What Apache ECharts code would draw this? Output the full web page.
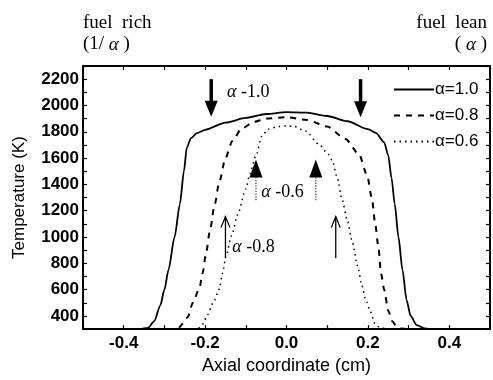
<!DOCTYPE html>
<html>
<head>
<meta charset="utf-8">
<script src="https://cdn.jsdelivr.net/npm/echarts@6/dist/echarts.min.js"></script>
<style>html,body{margin:0;padding:0;background:#fff}#c{width:493px;height:380px}</style>
</head>
<body>
<div id="c"></div>
<script>
// ---- data ----
const seriesNames = ['α=1.0', 'α=0.8', 'α=0.6'];
const x10 = [-0.5,-0.36,-0.34,-0.325,-0.31,-0.30,-0.29,-0.275,-0.262,-0.252,-0.245,-0.235,-0.22,-0.2,-0.15,-0.1,-0.05,0,0.05,0.1,0.15,0.2,0.22,0.24,0.25,0.258,0.266,0.275,0.285,0.295,0.305,0.32,0.34,0.36,0.5];
const t10 = [300,300,310,360,480,600,750,1000,1250,1500,1680,1750,1790,1815,1870,1905,1935,1950,1945,1920,1880,1820,1790,1720,1620,1450,1250,1000,750,520,400,330,305,300,300];
const x08 = [-0.5,-0.28,-0.265,-0.255,-0.243,-0.23,-0.214,-0.206,-0.198,-0.188,-0.177,-0.165,-0.15,-0.133,-0.11,-0.08,-0.05,0,0.05,0.1,0.145,0.178,0.198,0.21,0.218,0.226,0.232,0.24,0.25,0.26,0.27,0.28,0.3,0.5];
const t08 = [300,300,310,340,390,500,610,726,870,1050,1240,1420,1600,1730,1825,1875,1900,1910,1890,1840,1745,1630,1470,1290,1100,920,726,600,440,360,320,305,300,300];
const x06 = [-0.5,-0.23,-0.215,-0.206,-0.194,-0.18,-0.165,-0.157,-0.149,-0.135,-0.12,-0.1,-0.09,-0.076,-0.06,-0.045,-0.02,0,0.02,0.047,0.079,0.1,0.112,0.125,0.136,0.15,0.161,0.175,0.185,0.195,0.206,0.218,0.23,0.25,0.5];
const t06 = [300,300,310,337,410,500,604,726,850,1010,1170,1365,1480,1610,1770,1820,1840,1845,1840,1805,1707,1640,1585,1450,1290,1120,971,780,630,520,432,337,310,300,300];

// annotation arrows (data coordinates)
const arrowX    = [-0.185, 0.182, -0.075, 0.072, -0.15, 0.121];
const arrowTail = [2200, 2200, 1280, 1280, 840, 840];
const arrowHead = [1915, 1910, 1590, 1590, 1155, 1155];
const arrowKind = ['bold', 'bold', 'dotted', 'dotted', 'open', 'open'];
// annotation texts
const noteText = ['-1.0', '-0.6', '-0.8'];
const noteX = [-0.146, -0.062, -0.133];
const noteY = [2100, 1337, 925];

const xTickLabels = [-0.4, -0.2, 0.0, 0.2, 0.4];
const yTickLabels = [400, 600, 800, 1000, 1200, 1400, 1600, 1800, 2000, 2200];

function zip(xs, ys) { return xs.map((x, i) => [x, ys[i]]); }

const chart = echarts.init(document.getElementById('c'), null, {renderer: 'canvas'});
const sans = 'Liberation Sans, Arial, sans-serif';
const serif = 'Liberation Serif, Times New Roman, serif';

const baseX = {
  type: 'value', min: -0.5, max: 0.5, interval: 0.1,
  axisLine: {show: true, onZero: false, lineStyle: {color: '#000', width: 2}},
  axisTick: {show: true, inside: true, length: 4, lineStyle: {color: '#000', width: 1.2}},
  splitLine: {show: false}
};
const baseY = {
  type: 'value', min: 300, max: 2300, interval: 100,
  axisLine: {show: true, onZero: false, lineStyle: {color: '#000', width: 2}},
  axisTick: {show: true, inside: true, length: 4, lineStyle: {color: '#000', width: 1.2}},
  splitLine: {show: false}
};

function lineSeries(name, data, type, width) {
  return {
    name, type: 'line', data, xAxisIndex: 0, yAxisIndex: 0,
    symbol: 'none', smooth: 0.25, smoothMonotone: 'x', clip: true,
    lineStyle: {color: '#000', width, type},
    itemStyle: {color: '#000'}
  };
}

const annData = arrowX.map((x, i) => [x, arrowTail[i], arrowHead[i], i]);
const richA = {a: {fontFamily: serif, fontStyle: 'italic', fontSize: 19, fill: '#000'}};

const option = {
  animation: false,
  backgroundColor: '#fff',
  grid: {left: 83, right: 1, top: 66, bottom: 42, containLabel: false},
  xAxis: [
    Object.assign({}, baseX, {
      position: 'bottom',
      name: 'Axial coordinate (cm)', nameLocation: 'middle', nameGap: 23,
      nameTextStyle: {fontFamily: sans, fontSize: 18, color: '#000'},
      axisLabel: {
        show: true, margin: 6, fontFamily: sans, fontSize: 17, fontWeight: 'bold', color: '#000',
        formatter: v => xTickLabels.some(t => Math.abs(t - v) < 1e-6) ? v.toFixed(1) : ''
      }
    }),
    Object.assign({}, baseX, {position: 'top', axisLabel: {show: false}})
  ],
  yAxis: [
    Object.assign({}, baseY, {
      position: 'left',
      name: 'Temperature (K)', nameLocation: 'middle', nameGap: 55,
      nameTextStyle: {fontFamily: sans, fontSize: 17, color: '#000'},
      axisLabel: {
        show: true, margin: 4, fontFamily: sans, fontSize: 17, fontWeight: 'bold', color: '#000',
        formatter: v => yTickLabels.indexOf(Math.round(v)) >= 0 ? String(Math.round(v)) : ''
      }
    }),
    Object.assign({}, baseY, {position: 'right', axisLabel: {show: false}})
  ],
  legend: {
    orient: 'vertical', left: 388, top: 76, itemGap: 9,
    itemWidth: 40, itemHeight: 17,
    data: seriesNames,
    itemStyle: {color: 'rgba(0,0,0,0)', borderColor: 'rgba(0,0,0,0)', borderWidth: 0, opacity: 0},
    textStyle: {fontFamily: sans, fontSize: 17, color: '#000', padding: [0, 0, 0, -4]}
  },
  series: [
    lineSeries(seriesNames[0], zip(x10, t10), 'solid', 1.8),
    lineSeries(seriesNames[1], zip(x08, t08), [6, 6], 2),
    lineSeries(seriesNames[2], zip(x06, t06), [1.5, 4], 1.5),
    {
      type: 'custom', xAxisIndex: 0, yAxisIndex: 0, silent: true, clip: false,
      data: annData,
      renderItem: function (params, api) {
        const i = api.value(3);
        const tail = api.coord([api.value(0), api.value(1)]);
        const head = api.coord([api.value(0), api.value(2)]);
        const kind = arrowKind[i];
        const x = head[0];
        const dir = head[1] > tail[1] ? 1 : -1; // 1 = pointing down
        if (kind === 'bold') {
          const hl = 16, hw = 6.5;
          return {type: 'group', children: [
            {type: 'line', shape: {x1: x, y1: tail[1], x2: x, y2: head[1] - dir * hl + dir},
             style: {stroke: '#000', lineWidth: 3.5}},
            {type: 'polygon', shape: {points: [[x - hw, head[1] - dir * hl], [x + hw, head[1] - dir * hl], [x, head[1]]]},
             style: {fill: '#000'}}
          ]};
        } else if (kind === 'dotted') {
          const hl = 18, hw = 6.5;
          return {type: 'group', children: [
            {type: 'line', shape: {x1: x, y1: tail[1], x2: x, y2: head[1] - dir * hl},
             style: {stroke: '#000', lineWidth: 1, lineDash: [1.2, 1.5]}},
            {type: 'polygon', shape: {points: [[x - hw, head[1] - dir * hl], [x + hw, head[1] - dir * hl], [x, head[1]]]},
             style: {fill: '#000'}}
          ]};
        } else {
          const hl = 11, hw = 4.5;
          return {type: 'group', children: [
            {type: 'line', shape: {x1: x, y1: tail[1], x2: x, y2: head[1]},
             style: {stroke: '#000', lineWidth: 1.3}},
            {type: 'polyline', shape: {points: [[x - hw, head[1] - dir * hl], [x, head[1]], [x + hw, head[1] - dir * hl]]},
             style: {stroke: '#000', lineWidth: 1.3, fill: null}}
          ]};
        }
      }
    },
    {
      type: 'custom', xAxisIndex: 0, yAxisIndex: 0, silent: true, clip: false,
      data: noteX.map((x, i) => [x, noteY[i], i]),
      renderItem: function (params, api) {
        const p = api.coord([api.value(0), api.value(1)]);
        const i = api.value(2);
        return {
          type: 'text', x: p[0], y: p[1],
          style: {
            text: '{a|α} ' + noteText[i],
            verticalAlign: 'middle', align: 'left',
            fontFamily: serif, fontSize: 18, fill: '#000',
            rich: {a: {fontFamily: serif, fontStyle: 'italic', fontSize: 18, fill: '#000'}}
          }
        };
      }
    }
  ],
  graphic: [
    {type: 'text', left: 83, top: 14, style: {text: 'fuel  rich', fontFamily: serif, fontSize: 19, fill: '#000'}},
    {type: 'text', left: 83, top: 35, style: {text: '(1/ {a|α} )', fontFamily: serif, fontSize: 19, fill: '#000', rich: richA}},
    {type: 'text', right: 6, top: 14, style: {text: 'fuel  lean', fontFamily: serif, fontSize: 19, fill: '#000'}},
    {type: 'text', right: 6, top: 35, style: {text: '( {a|α} )', fontFamily: serif, fontSize: 19, fill: '#000', rich: richA}}
  ]
};
chart.setOption(option);
</script>
</body>
</html>
